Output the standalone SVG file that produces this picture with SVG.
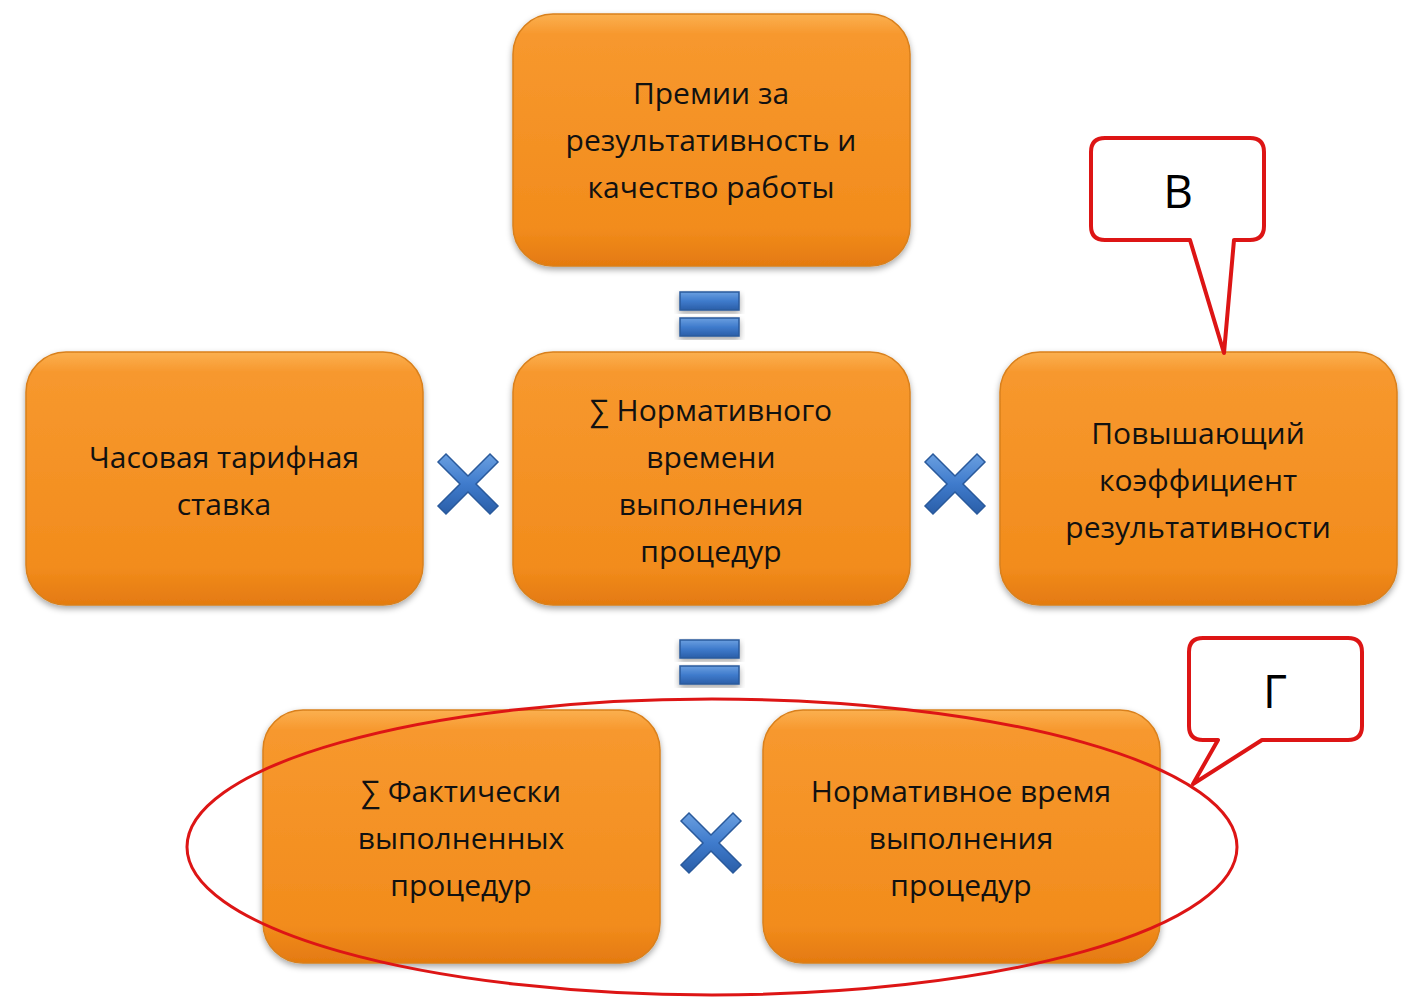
<svg xmlns="http://www.w3.org/2000/svg" width="1416" height="1006" viewBox="0 0 1416 1006">
<defs>
<linearGradient id="og" x1="0" y1="0" x2="0" y2="1">
<stop offset="0" stop-color="#fbb050"/><stop offset="0.08" stop-color="#f7982e"/><stop offset="0.85" stop-color="#f28c1c"/><stop offset="1" stop-color="#e47a10"/>
</linearGradient>
<linearGradient id="bg" x1="0" y1="0" x2="0" y2="1">
<stop offset="0" stop-color="#6a9fe0"/><stop offset="0.5" stop-color="#3f7bcc"/><stop offset="1" stop-color="#2a5ea8"/>
</linearGradient>
<filter id="sh" x="-10%" y="-10%" width="120%" height="130%"><feDropShadow dx="0" dy="3" stdDeviation="3" flood-color="#000" flood-opacity="0.35"/></filter>
<g id="x"><path d="M-22,-30 L0,-8 L22,-30 L30,-22 L8,0 L30,22 L22,30 L0,8 L-22,30 L-30,22 L-8,0 L-30,-22 Z" fill="url(#bg)" stroke="#2a5a9c" stroke-width="1.5"/></g>
</defs>
<style>
.box{fill:url(#og);stroke:#d9801c;stroke-width:1.5;filter:url(#sh)}
.t{font-family:"Open Sans","Liberation Sans",sans-serif;font-size:30px;fill:#111;text-anchor:middle}
.eq{fill:url(#bg);stroke:#2a5a9c;stroke-width:1.5;filter:url(#sh)}
.call{fill:#fff;stroke:#dd1515;stroke-width:4;stroke-linejoin:round}
.ct{font-family:"Open Sans","Liberation Sans",sans-serif;font-size:46px;fill:#000;text-anchor:middle}
</style>
<g id="n1"><rect class="box" x="513" y="14" width="397" height="252" rx="40"/>
<text class="t" x="711" y="104">Премии за</text><text class="t" x="711" y="151">результативность и</text><text class="t" x="711" y="198">качество работы</text></g>
<g id="n2"><rect class="box" x="26" y="352" width="397" height="253" rx="40"/>
<text class="t" x="224" y="468">Часовая тарифная</text><text class="t" x="224" y="515">ставка</text></g>
<g id="n3"><rect class="box" x="513" y="352" width="397" height="253" rx="40"/>
<text class="t" x="711" y="421">∑ Нормативного</text><text class="t" x="711" y="468">времени</text><text class="t" x="711" y="515">выполнения</text><text class="t" x="711" y="562">процедур</text></g>
<g id="n4"><rect class="box" x="1000" y="352" width="397" height="253" rx="40"/>
<text class="t" x="1198" y="444">Повышающий</text><text class="t" x="1198" y="491">коэффициент</text><text class="t" x="1198" y="538">результативности</text></g>
<g id="n5"><rect class="box" x="263" y="710" width="397" height="253" rx="40"/>
<text class="t" x="461" y="802">∑ Фактически</text><text class="t" x="461" y="849">выполненных</text><text class="t" x="461" y="896">процедур</text></g>
<g id="n6"><rect class="box" x="763" y="710" width="397" height="253" rx="40"/>
<text class="t" x="961" y="802">Нормативное время</text><text class="t" x="961" y="849">выполнения</text><text class="t" x="961" y="896">процедур</text></g>
<g id="connectors">
<rect class="eq" x="680" y="292" width="59" height="18"/><rect class="eq" x="680" y="318" width="59" height="18"/>
<rect class="eq" x="680" y="640" width="59" height="18"/><rect class="eq" x="680" y="666" width="59" height="18"/>
<use href="#x" x="468" y="484"/><use href="#x" x="955" y="484"/><use href="#x" x="711" y="843"/>
<ellipse cx="712" cy="847" rx="525" ry="148" fill="none" stroke="#dd1515" stroke-width="3"/>
</g>
<g id="callB"><path class="call" d="M1105,138 H1250 Q1264,138 1264,152 V226 Q1264,240 1250,240 H1234 L1224,353 L1190,240 H1105 Q1091,240 1091,226 V152 Q1091,138 1105,138 Z"/>
<text class="ct" x="1178" y="208">В</text></g>
<g id="callG"><path class="call" d="M1203,638 H1348 Q1362,638 1362,652 V726 Q1362,740 1348,740 H1262 L1193,784 L1218,740 H1203 Q1189,740 1189,726 V652 Q1189,638 1203,638 Z"/>
<text class="ct" x="1275" y="708">Г</text></g>
</svg>
